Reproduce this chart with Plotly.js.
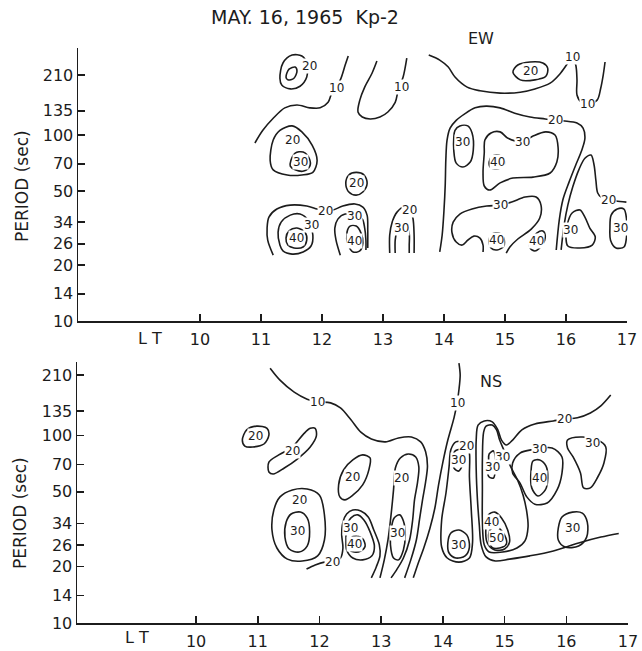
<!DOCTYPE html>
<html><head><meta charset="utf-8">
<script src="https://cdn.plot.ly/plotly-3.0.1.min.js"></script>
<style>html,body{margin:0;padding:0;background:#fff}#c{width:642px;height:651px}</style>
</head><body><div id="c"></div>
<script>
// ---------- axes ----------
const periodTicks = [10, 14, 20, 26, 34, 50, 70, 100, 135, 210];
const ltTicks = [10, 11, 12, 13, 14, 15, 16, 17];
const chartTitle = "MAY. 16, 1965  Kp-2";

// ---------- EW panel contour lines (LT hours, period s) ----------
const EW_A_LT = [11.31,11.36,11.51,11.67,11.75,11.75,11.64,11.48,11.34,11.31];
const EW_A_P  = [202,244,269,266,244,205,183,177,186,202];
const EW_A2_LT = [11.41,11.46,11.56,11.59,11.54,11.44,11.41];
const EW_A2_P  = [205,226,232,221,202,198,205];
const EW_B_LT = [10.90,11.03,11.20,11.39,11.59,11.80,11.97,12.10,12.16,12.30,12.38,12.43];
const EW_B_P  = [90.6,106,123,140,145,140,140,150,168,198,238,266];
const EW_C_LT = [12.90,12.82,12.70,12.62,12.59,12.66,12.79,12.95,13.08,13.20,13.25,13.33,13.39];
const EW_C_P  = [250,215,181,154,133,125,122,125,133,150,175,205,259];
const EW_D_LT = [11.15,11.20,11.31,11.51,11.67,11.84,11.92,11.85,11.67,11.43,11.20,11.15];
const EW_D_P  = [73,94,106,112,104,88,73,63,61,61,65,73];
const EW_D2_LT = [11.49,11.56,11.69,11.79,11.80,11.70,11.56,11.48,11.49];
const EW_D2_P  = [73,80,81,75,68,64,65,68,73];
const EW_E_LT = [12.39,12.44,12.56,12.69,12.74,12.67,12.56,12.44,12.39];
const EW_E_P  = [55,61,63,61,55,49.4,47.5,49.4,55];
const EW_F_LT = [11.20,11.11,11.10,11.13,11.26,11.48,11.75,11.92,12.05,12.18,12.34,12.54,12.67,12.74,12.75,12.75];
const EW_F_P  = [22.6,27.2,31.6,36.2,40,42,41.5,40,39,39.5,41.5,42.6,41,37,30.8,24.7];
const EW_G_LT = [11.31,11.28,11.33,11.48,11.64,11.77,11.85,11.82,11.69,11.51,11.36,11.31];
const EW_G_P  = [25.6,30,34,37.1,37.6,34.9,29,25.3,23.5,22.9,23.8,25.6];
const EW_G2_LT = [11.41,11.46,11.59,11.72,11.75,11.69,11.54,11.44,11.41];
const EW_G2_P  = [27.9,30.5,31.6,30,27.2,25,24.7,25.6,27.9];
const EW_H_LT = [12.30,12.23,12.21,12.26,12.38,12.54,12.66,12.70,12.72,12.72];
const EW_H_P  = [22.6,27.2,31.6,35.3,37.6,36.7,35.3,31.6,27.2,24.1];
const EW_H2_LT = [12.41,12.46,12.56,12.64,12.67,12.62,12.51,12.43,12.41];
const EW_H2_P  = [30,32.4,32.4,29.7,26.3,23.8,23.5,25.6,30];
const EW_I_LT = [13.11,13.11,13.15,13.23,13.34,13.44,13.49,13.51,13.51];
const EW_I_P  = [23.2,29,34,38.5,41,39.5,35.8,29,23.2];
const EW_I2_LT = [13.20,13.20,13.23,13.30,13.38,13.43,13.43,13.43];
const EW_I2_P  = [23.2,27.2,30.5,33.2,32.4,29.4,25.6,23.2];
const EW_K_LT = [13.75,13.93,14.07,14.18,14.38,14.59,14.92,15.25,15.49,15.74,15.90,16.02,16.10,16.16,16.18,16.18,16.25,16.36,16.51,16.57,16.61,16.64];
const EW_K_P  = [269,253,232,205,181,173,168,170,177,190,213,241,262,238,198,164,150,147,154,179,210,247];
const EW_L_LT = [15.13,15.21,15.41,15.62,15.70,15.67,15.49,15.25,15.13];
const EW_L_P  = [218,238,247,244,229,207,198,198,218];
const EW_M_LT = [13.93,13.97,14.00,14.02,14.03,14.05,14.10,14.20,14.34,14.51,14.69,14.92,15.16,15.41,15.66,15.82,15.98,16.18,16.28,16.31,16.26,16.16,16.05,15.95,15.89,15.84];
const EW_M_P  = [23.5,29,39.5,53.8,73.4,94,109,120,130,140,143,140,131,125,122,120,119,116,109,96,83,69,55.8,45,35,24.1];
const EW_N_LT = [15.92,15.97,16.03,16.11,16.21,16.31,16.41,16.46,16.49,16.52,16.59,16.69,16.82,16.99];
const EW_N_P  = [24.1,33,42,52.5,65,75,78,69,57,48.8,45.8,45,44.2,43.6];
const EW_O_LT = [14.18,14.26,14.39,14.46,14.48,14.43,14.31,14.20,14.16,14.16,14.18];
const EW_O_P  = [106,112,112,102.6,83,71.6,67.3,70.6,83,96,106];
const EW_P_LT = [14.67,14.77,14.92,15.05,15.28,15.46,15.67,15.82,15.87,15.85,15.74,15.46,15.13,14.92,14.75,14.66,14.64,14.66,14.67];
const EW_P_P  = [94,102.6,104,96,92,98.8,104,100,86,71.6,62.5,59.4,58.7,55.3,50.6,53.2,63,80,94];
const EW_P2_LT = [14.74,14.79,14.90,14.98,14.98,14.89,14.77,14.74];
const EW_P2_P  = [71.6,77,78,74,68,66,66.5,71.6];
const EW_Q_LT = [14.64,14.64,14.59,14.49,14.39,14.30,14.20,14.13,14.15,14.26,14.46,14.70,14.92,15.11,15.33,15.51,15.59,15.57,15.43,15.21,15.08,15.02];
const EW_Q_P  = [23.5,25.6,27.9,28.6,27.2,25.6,26.6,30,34,37.6,40,41.5,42,43.6,46.4,46.4,42,35.8,31.2,27.6,25,23.2];
const EW_R_LT = [14.74,14.79,14.90,14.98,14.98,14.87,14.77,14.74];
const EW_R_P  = [27.2,29.4,29.7,27.9,25.3,24.1,24.7,27.2];
const EW_S_LT = [15.41,15.43,15.52,15.62,15.66,15.61,15.49,15.41];
const EW_S_P  = [24.7,27.2,29.7,30.5,28.6,25.6,23.8,24.7];
const EW_T_LT = [16.02,16.10,16.23,16.31,16.39,16.48,16.43,16.23,16.03,16.00,16.02];
const EW_T_P  = [33,38.1,39.5,36.2,31.6,28.3,25.6,24.7,25.3,27.9,33];
const EW_U_LT = [16.74,16.84,16.95,16.99,16.99,16.95,16.82,16.73,16.72,16.74];
const EW_U_P  = [37.1,40,40,35.8,27.9,25,24.7,27.2,31.6,37.1];

// EW level labels
const ewLabelText = ["20","10","10","20","30","20","20","30","40","30","40","20","30","10","10","20","20","20","30","30","40","30","40","40","30","30"];
const ewLabelLT   = [11.79,12.23,13.31,11.51,11.64,12.56,12.05,11.82,11.59,12.54,12.54,13.44,13.31,16.10,16.36,15.41,15.82,16.69,14.31,15.28,14.87,14.92,14.86,15.52,16.07,16.89];
const ewLabelP    = [235,179,181,94,72,55,39,33,27.9,36.7,27,39.5,31.6,262,147,221,120,45,92,92,71.6,42,27.2,27,31,31.5];

// ---------- NS panel contour lines ----------
const NS_A_LT = [11.20,11.36,11.59,11.80,11.97,12.18,12.34,12.51,12.67,12.84,13.07,13.28,13.49,13.64,13.72,13.75,13.72,13.67,13.62,13.57,13.48,13.38];
const NS_A_P  = [228,197,170,156,151,149,140,121,104,95.7,92.3,96.9,98,92.3,81.7,68.7,56.5,45.3,35.4,27.7,21.7,17.4];
const NS_B_LT = [14.26,14.28,14.26,14.23,14.18,14.08,14.00,13.93,13.87,13.79,13.69,13.59,13.52];
const NS_B_P  = [243,210,175,149,124,94.4,72,54.5,41,32,25.1,20.4,17.4];
const NS_C_LT = [10.75,10.82,10.98,11.15,11.18,11.10,10.92,10.79,10.75];
const NS_C_P  = [94.4,107,112,109,100.4,90,86.7,87.7,94.4];
const NS_D_LT = [11.18,11.18,11.34,11.56,11.74,11.85,11.93,11.95,11.85,11.64,11.43,11.25,11.18];
const NS_D_P  = [63.8,72,78.7,86.7,101.6,109,109,99.3,86.7,74.8,67,62.2,63.8];
const NS_E_LT = [11.26,11.36,11.56,11.80,12.00,12.08,12.08,11.97,11.72,11.48,11.31,11.23,11.26];
const NS_E_P  = [40,47,51.2,51.8,48,37.7,27.7,22.8,21.4,21.9,25.1,31.3,40];
const NS_E2_LT = [11.46,11.54,11.69,11.80,11.84,11.80,11.67,11.51,11.44,11.46];
const NS_E2_P  = [34.5,38.1,39,36.3,30.6,25.7,23.9,24.8,28.7,34.5];
const NS_F_LT = [12.33,12.31,12.39,12.54,12.70,12.82,12.80,12.70,12.54,12.41,12.33];
const NS_F_P  = [47,54.5,65.5,74,78.7,75.8,65.5,54.5,48,45.3,47];
const NS_G_LT = [11.79,11.93,12.08,12.21,12.34,12.38,12.36,12.38,12.44,12.54,12.67,12.79,12.88,12.97,12.98,12.92,12.84];
const NS_G_P  = [19.4,20.4,21.1,21.1,22.2,25.1,29.4,34.5,38.1,40,39.5,36.7,31.3,26.1,22.8,19.9,17.4];
const NS_G2_LT = [12.43,12.44,12.51,12.62,12.72,12.82,12.89,12.85,12.70,12.54,12.44,12.43];
const NS_G2_P  = [27.7,32.5,36.3,37.7,35.4,30.6,25.7,22.8,21.7,22.2,24.5,27.7];
const NS_G3_LT = [12.48,12.51,12.61,12.70,12.74,12.67,12.56,12.49,12.48];
const NS_G3_P  = [26.1,28.4,29.1,28.1,25.7,24.2,23.9,24.5,26.1];
const NS_H_LT = [12.98,13.05,13.11,13.16,13.20,13.23,13.31,13.44,13.56,13.61,13.59,13.54,13.51,13.46,13.36,13.25,13.16];
const NS_H_P  = [17.4,21.7,27.7,37.7,51.2,67,75.8,79.6,76.7,67.9,56.5,45.3,35.4,27.7,22.2,19.2,17.4];
const NS_H2_LT = [13.16,13.21,13.30,13.36,13.39,13.36,13.28,13.20,13.15,13.16];
const NS_H2_P  = [31.3,36.3,37.7,35,29.4,24.5,21.7,22.2,26.1,31.3];
const NS_J_LT = [16.72,16.56,16.39,16.18,15.97,15.79,15.49,15.28,15.13,15.03,14.95,14.89,14.80,14.67,14.57,14.54,14.54,14.56,14.59,14.62,14.70,14.85,15.08,15.41,15.79,16.20,16.56,16.85];
const NS_J_P  = [164,143.6,131.6,124,122,119.4,115,107,94.4,88.9,94.4,107,118,119.4,113.5,94.4,65.5,45.3,33.3,26.1,22.5,21.4,21.9,22.8,24.2,26.7,28.7,30];
const NS_K_LT = [14.66,14.70,14.80,14.87,14.92,15.00,15.10,15.21,15.30,15.36,15.38,15.33,15.20,14.97,14.75,14.67,14.64,14.64,14.64,14.66];
const NS_K_P  = [104,112,113.5,107,94.4,81.7,67.9,57.8,48,39,32.5,27.4,25.1,23.9,23.9,26.1,35.4,51.2,74,104];
const NS_K2_LT = [14.74,14.75,14.82,14.85,14.85,14.82,14.75,14.72,14.74];
const NS_K2_P  = [72,79.6,82.6,76.7,65.5,59.3,60,65.5,72];
const NS_K3_LT = [14.70,14.74,14.84,14.95,15.05,15.08,15.00,14.84,14.72,14.70];
const NS_K3_P  = [33.3,37.7,39,36.3,31.3,27,24.8,24.5,26.7,33.3];
const NS_K4_LT = [14.74,14.79,14.90,15.00,15.03,14.92,14.79,14.74];
const NS_K4_P  = [29.4,32,32,29.4,26.4,25.1,25.4,29.4];
const NS_L_LT = [14.21,14.38,14.43,14.43,14.46,14.48,14.43,14.26,14.07,13.98,13.98,14.05,14.10,14.13,14.21];
const NS_L_P  = [92.3,91.1,80.5,60,40,26.7,22.2,21.1,22.2,25.4,35.4,49.3,67.9,84,92.3];
const NS_L2_LT = [14.16,14.20,14.28,14.33,14.31,14.25,14.18,14.16];
const NS_L2_P  = [75.8,82.6,84,77.8,68.7,64.5,67,75.8];
const NS_L3_LT = [14.08,14.13,14.26,14.39,14.43,14.36,14.21,14.10,14.08];
const NS_L3_P  = [26.7,30.2,31.3,29.4,25.4,22.8,22.2,23.6,26.7];
const NS_M_LT = [15.13,15.25,15.46,15.77,15.93,15.93,15.85,15.69,15.49,15.36,15.25,15.13,15.13];
const NS_M_P  = [71.3,80.5,84,85.7,76.7,63,51.2,43.6,43,47,55.7,63,71.3];
const NS_M2_LT = [15.43,15.46,15.57,15.67,15.70,15.66,15.54,15.44,15.43];
const NS_M2_P  = [65.5,73,74,68.7,59.3,51.2,47.5,52.5,65.5];
const NS_N_LT = [16.02,16.23,16.51,16.64,16.61,16.51,16.39,16.28,16.23,16.11,16.02,16.02];
const NS_N_P  = [94.4,98,94.4,86.7,71.3,60,52.5,52.5,63,76.7,85.7,94.4];
const NS_O_LT = [15.87,15.93,16.10,16.26,16.34,16.33,16.20,15.98,15.87,15.87];
const NS_O_P  = [32,36.7,39,38.5,34.5,28.7,25.7,25.4,27.7,32];

// NS level labels
const nsLabelText = ["10","10","20","20","20","30","20","20","30","40","20","30","20","20","30","30","30","30","40","50","30","40","30","30"];
const nsLabelLT   = [11.97,14.23,10.97,11.56,11.67,11.64,12.54,12.21,12.51,12.57,13.33,13.26,15.97,14.38,14.25,14.25,14.97,14.80,14.79,14.87,15.57,15.56,16.43,16.10];
const nsLabelP    = [151,149,99,83,45,31,60,21.1,32,26.4,59.3,30.2,122,87.7,74,26,76.7,68,34.5,28.4,84.5,59,91,32];

// ---------- build ----------
const ewLines = [[EW_A_LT,EW_A_P],[EW_A2_LT,EW_A2_P],[EW_B_LT,EW_B_P],[EW_C_LT,EW_C_P],[EW_D_LT,EW_D_P],[EW_D2_LT,EW_D2_P],[EW_E_LT,EW_E_P],[EW_F_LT,EW_F_P],[EW_G_LT,EW_G_P],[EW_G2_LT,EW_G2_P],[EW_H_LT,EW_H_P],[EW_H2_LT,EW_H2_P],[EW_I_LT,EW_I_P],[EW_I2_LT,EW_I2_P],[EW_K_LT,EW_K_P],[EW_L_LT,EW_L_P],[EW_M_LT,EW_M_P],[EW_N_LT,EW_N_P],[EW_O_LT,EW_O_P],[EW_P_LT,EW_P_P],[EW_P2_LT,EW_P2_P],[EW_Q_LT,EW_Q_P],[EW_R_LT,EW_R_P],[EW_S_LT,EW_S_P],[EW_T_LT,EW_T_P],[EW_U_LT,EW_U_P]];
const nsLines = [[NS_A_LT,NS_A_P],[NS_B_LT,NS_B_P],[NS_C_LT,NS_C_P],[NS_D_LT,NS_D_P],[NS_E_LT,NS_E_P],[NS_E2_LT,NS_E2_P],[NS_F_LT,NS_F_P],[NS_G_LT,NS_G_P],[NS_G2_LT,NS_G2_P],[NS_G3_LT,NS_G3_P],[NS_H_LT,NS_H_P],[NS_H2_LT,NS_H2_P],[NS_J_LT,NS_J_P],[NS_K_LT,NS_K_P],[NS_K2_LT,NS_K2_P],[NS_K3_LT,NS_K3_P],[NS_K4_LT,NS_K4_P],[NS_L_LT,NS_L_P],[NS_L2_LT,NS_L2_P],[NS_L3_LT,NS_L3_P],[NS_M_LT,NS_M_P],[NS_M2_LT,NS_M2_P],[NS_N_LT,NS_N_P],[NS_O_LT,NS_O_P]];

const INK = '#1c1c1c';
const FONT = 'DejaVu Sans, Arial, sans-serif';
const traces = [];
function addLines(list, xa, ya) {
  list.forEach(([lt, p]) => traces.push({
    type: 'scatter', mode: 'lines', x: lt, y: p, xaxis: xa, yaxis: ya,
    line: {color: INK, width: 1.6, shape: 'spline', smoothing: 0.9},
    hoverinfo: 'skip', showlegend: false
  }));
}
addLines(ewLines, 'x', 'y');
addLines(nsLines, 'x2', 'y2');

const annotations = [];
function addLabels(txt, lt, p, xr, yr) {
  txt.forEach((t, i) => annotations.push({
    text: t, x: lt[i], y: Math.log10(p[i]), xref: xr, yref: yr,
    showarrow: false, bgcolor: '#ffffff', borderpad: 0,
    font: {family: FONT, size: 12, color: INK}, xanchor: 'center', yanchor: 'middle'
  }));
}
addLabels(ewLabelText, ewLabelLT, ewLabelP, 'x', 'y');
addLabels(nsLabelText, nsLabelLT, nsLabelP, 'x2', 'y2');

const W = 642, H = 651;
function txt(t, px, py, size, angle) {
  annotations.push({text: t, x: px / W, y: 1 - py / H, xref: 'paper', yref: 'paper',
    showarrow: false, textangle: angle || 0, xanchor: 'center', yanchor: 'middle',
    font: {family: FONT, size: size, color: INK}});
}
txt(chartTitle, 305, 17, 19);
txt('EW', 481, 39, 16);
txt('NS', 491, 381, 16);
txt('PERIOD (sec)', 22, 186, 17, -90);
txt('PERIOD (sec)', 20, 513, 17, -90);
txt('L T', 150, 338, 16);
txt('L T', 137, 637, 16);

function xax(domain, range) {
  return {domain: domain, range: range, showline: true, linecolor: INK, linewidth: 1.5,
    showgrid: false, zeroline: false, ticks: 'inside', ticklen: 7, tickwidth: 1.5, tickcolor: INK,
    tickvals: ltTicks, ticktext: ltTicks.map(String), tickfont: {family: FONT, size: 16, color: INK},
    ticklabelstandoff: 3, fixedrange: true};
}
function yax(domain, range, anchor) {
  return {type: 'log', domain: domain, range: range, anchor: anchor, showline: true, linecolor: INK,
    linewidth: 1.5, showgrid: false, zeroline: false, ticks: 'inside', ticklen: 7, tickwidth: 1.5,
    tickcolor: INK, tickvals: periodTicks, ticktext: periodTicks.map(String),
    tickfont: {family: FONT, size: 16, color: INK}, fixedrange: true};
}

const layout = {
  width: W, height: H, margin: {l: 0, r: 0, t: 0, b: 0},
  paper_bgcolor: '#fff', plot_bgcolor: '#fff', showlegend: false,
  xaxis: Object.assign(xax([78 / W, 627 / W], [8, 17]), {anchor: 'y'}),
  yaxis: yax([(H - 321) / H, (H - 48) / H], [1, 2.468], 'x'),
  xaxis2: Object.assign(xax([77 / W, 628 / W], [8.07, 17]), {anchor: 'y2'}),
  yaxis2: yax([(H - 623) / H, (H - 362) / H], [1, 2.391], 'x2'),
  annotations: annotations
};
Plotly.newPlot('c', traces, layout, {staticPlot: true, displayModeBar: false});
</script></body></html>
